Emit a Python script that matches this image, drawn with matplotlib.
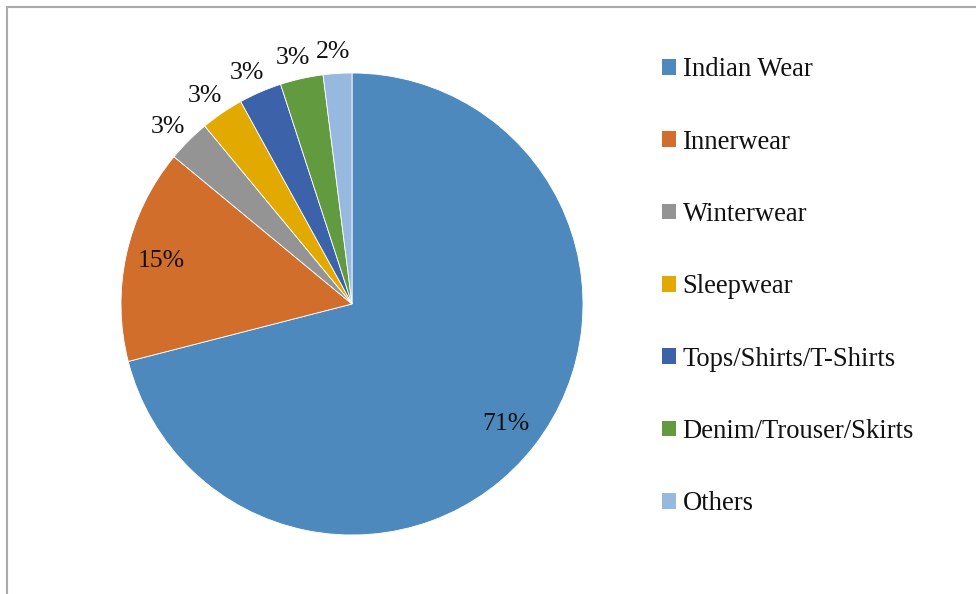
import numpy as np
import matplotlib.pyplot as plt
from matplotlib.lines import Line2D
from matplotlib.patches import Patch

plt.rcParams['font.family'] = ['Liberation Serif', 'DejaVu Serif']

categories = ['Indian Wear', 'Innerwear', 'Winterwear', 'Sleepwear',
              'Tops/Shirts/T-Shirts', 'Denim/Trouser/Skirts', 'Others']
shares = [71, 15, 3, 3, 3, 3, 2]
colors = ['#4E89BD', '#D26E2C', '#949494', '#E2AA00',
          '#3C62AA', '#629A40', '#98B9DF']

W, H = 976, 594
fig = plt.figure(figsize=(W / 100, H / 100), dpi=100)
ax = fig.add_axes([0, 0, 1, 1])

cx, cy, r = 352, H - 304, 231
wedges, _ = ax.pie(shares, colors=colors, startangle=90, counterclock=False,
                   center=(cx, cy), radius=r, frame=True,
                   wedgeprops=dict(edgecolor='white', linewidth=0.6))
ax.set_xlim(0, W)
ax.set_ylim(0, H)
ax.axis('off')

# percentage labels: big slices inside, thin slices just outside the rim
for w, v in zip(wedges, shares):
    mid = np.deg2rad((w.theta1 + w.theta2) / 2)
    if v >= 10:
        d, dx, dy = 0.845, 0, 0
    else:
        d, dx, dy = 1.11, -3, -4
    ax.text(cx + d * r * np.cos(mid) + dx, cy + d * r * np.sin(mid) + dy,
            f'{v}%', ha='center', va='center', fontsize=18.5,
            color='#111111')

fs = 19.2
handles = [Patch(facecolor=c, edgecolor='none') for c in colors]
leg = fig.legend(handles, categories, loc='upper left',
                 bbox_to_anchor=(649 / W, 1 - 44 / H), frameon=False,
                 fontsize=fs, handlelength=0.53, handleheight=0.53,
                 handletextpad=0.23, labelspacing=1.775, borderpad=0,
                 labelcolor='#111111')

# outer chart frame, only the top and left edges are in view
fig.add_artist(Line2D([7 / W, 7 / W], [0, 1 - 7 / H], color='#ABABAB',
                      linewidth=1.5, transform=fig.transFigure))
fig.add_artist(Line2D([7 / W, 1], [1 - 7 / H, 1 - 7 / H], color='#ABABAB',
                      linewidth=1.5, transform=fig.transFigure))

fig.savefig('out.png', dpi=100)
